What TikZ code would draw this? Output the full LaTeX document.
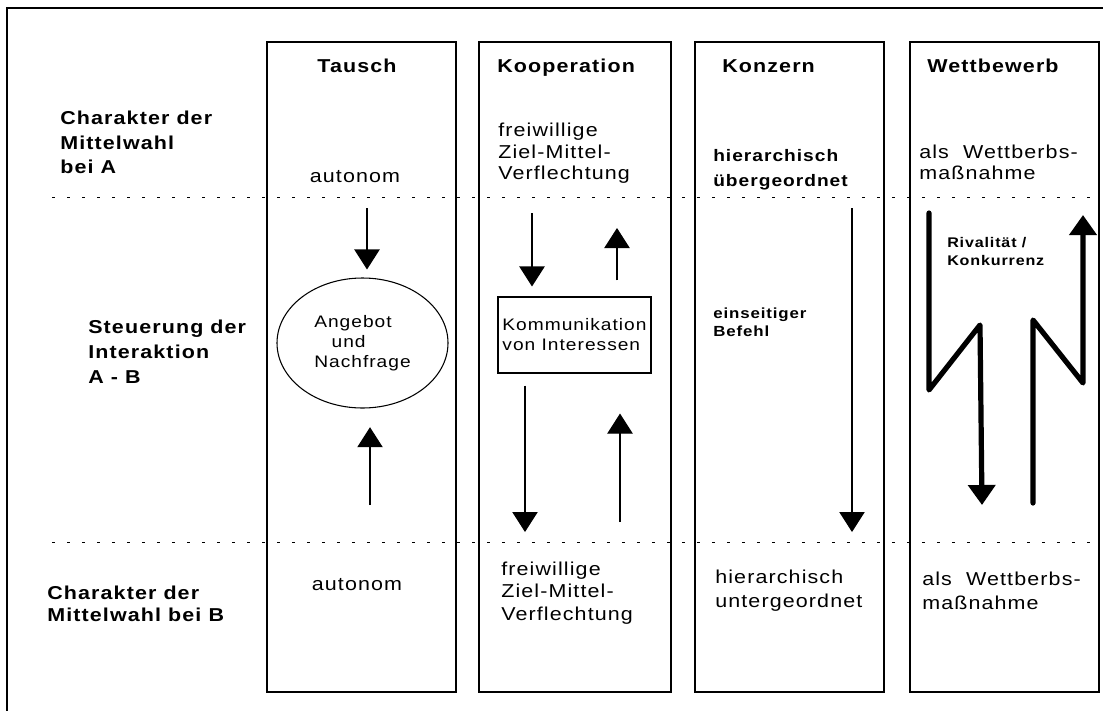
\documentclass[tikz,border=0pt]{standalone}
\usepackage{fontspec}
\setmainfont{Liberation Sans}[FakeStretch=1.15,LetterSpace=6]
\usetikzlibrary{arrows.meta,shapes.geometric,fit}

\begin{document}
\begin{tikzpicture}[x=0.75pt,y=-0.75pt,
  thinline/.style={line width=0.8pt},
  column/.style={draw,line width=0.8pt,inner sep=0pt},
  rowsep/.style={line width=0.7pt,dash pattern=on 2.25pt off 9pt},
  flow/.style={line width=0.8pt,-{Triangle[width=19pt,length=15pt]}},
  rivalry/.style={line width=3.9pt,line cap=round,line join=round,-{Triangle[width=20pt,length=15pt]}},
  txt/.style={inner sep=0pt,align=left,anchor=west},
  rowlabel/.style={txt,font=\bfseries\fontsize{14}{18.5}\selectfont},
  heading/.style={inner sep=0pt,anchor=base west,font=\bfseries\fontsize{14}{17}\selectfont},
  body/.style={txt,font=\fontsize{14}{16.5}\selectfont},
  innertext/.style={font=\fontsize{12.5}{15}\selectfont},
  note/.style={txt,font=\bfseries\fontsize{11}{13.5}\selectfont}
]
\useasboundingbox (0,0) rectangle (1103,711);

% outer frame (top and left edge)
\coordinate (fTR) at (1103,8);
\coordinate (fTL) at (7,8);
\coordinate (fBL) at (7,711);
\draw[thinline] (fTR) -- (fTL) -- (fBL);

% the four columns
\node[column,fit={(267,42) (456,692)}] (colT) {};
\node[column,fit={(479,42) (671,692)}] (colK) {};
\node[column,fit={(695,42) (884,692)}] (colZ) {};
\node[column,fit={(910,42) (1099,692)}] (colW) {};

% dotted row separators
\coordinate (s1) at (52,197);
\coordinate (s2) at (52,542);
\draw[rowsep] (s1) -- (s1 -| colW.east);
\draw[rowsep] (s2) -- (s2 -| colW.east);

% row labels
\node[rowlabel] (lblA) at (60,142.5) {Charakter der\\Mittelwahl\\bei A};
\node[rowlabel,font=\bfseries\fontsize{14}{18.75}\selectfont] (lblI) at (88,352) {Steuerung der\\Interaktion\\A - B};
\node[rowlabel,font=\bfseries\fontsize{14}{16.5}\selectfont] (lblB) at (47,604) {Charakter der\\Mittelwahl bei B};

% column headings
\node[heading,anchor=base] (hT) at (357,72) {Tausch};
\node[heading] (hK) at (497,72) {Kooperation};
\node[heading] (hZ) at (722,72) {Konzern};
\node[heading] (hW) at (927,72) {Wettbewerb};

% choice of means at A
\node[body,anchor=base] (aA) at (355,182) {autonom};
\node[body,font=\fontsize{14}{16}\selectfont] (kopA) at (498,153.5) {freiwillige\\Ziel-Mittel-\\Verflechtung};
\node[body,font=\bfseries\fontsize{12.5}{18.75}\selectfont] (konA) at (713,169.5) {hierarchisch\\übergeordnet};
\node[body,font=\fontsize{14}{15.75}\selectfont] (wetA) at (919,162.5) {als\ \ Wettberbs-\\maßnahme};

% choice of means at B
\node[body,anchor=base] (aB) at (357,590) {autonom};
\node[body,font=\fontsize{14}{16.9}\selectfont] (kopB) at (501,593) {freiwillige\\Ziel-Mittel-\\Verflechtung};
\node[body,font=\fontsize{14}{18}\selectfont] (konB) at (715,591) {hierarchisch\\untergeordnet};
\node[body,font=\fontsize{14}{18}\selectfont] (wetB) at (922,591) {als\ \ Wettberbs-\\maßnahme};

% Tausch: market
\node[draw,thinline,ellipse,minimum width=128.25pt,minimum height=97.5pt,inner sep=0pt,align=left,innertext] (markt) at (362.5,343) {Angebot\\\hspace*{13pt}und\\Nachfrage};
\coordinate (tIn) at (367,208);
\coordinate (tOut) at (370,505);
\draw[flow,shorten >=6pt] (tIn) -- (tIn |- markt.north);
\draw[flow,shorten >=14pt] (tOut) -- (tOut |- markt.south);

% Kooperation: communication
\node[draw,thinline,minimum width=114.75pt,minimum height=57pt,inner sep=0pt,align=left,innertext] (komm) at (574.5,335) {Kommunikation\\von Interessen};
\coordinate (kA) at (532,213);
\coordinate (kB) at (617,228);
\coordinate (kC) at (525,532);
\coordinate (kD) at (620,522);
\draw[flow,shorten >=7.5pt] (kA) -- (kA |- komm.north);
\draw[flow,shorten <=12pt] (kB |- komm.north) -- (kB);
\draw[flow,shorten <=9pt] (kC |- komm.south) -- (kC);
\draw[flow,shorten >=30pt] (kD) -- (kD |- komm.south);

% Konzern: one-sided command
\node[note] (befehl) at (713,322) {einseitiger\\Befehl};
\coordinate (zTop) at (852,208);
\coordinate (zEnd) at (852,532);
\draw[flow] (zTop) -- (zEnd);

% Wettbewerb: rivalry
\node[note,font=\bfseries\fontsize{10.5}{13.5}\selectfont] (rival) at (947,251) {Rivalität /\\Konkurrenz};
\coordinate (wA1) at (929,213);
\coordinate (wA2) at (929,390);
\coordinate (wA3) at (980,325);
\coordinate (wA4) at (982,505);
\coordinate (wB1) at (1033,503);
\coordinate (wB2) at (1033,320);
\coordinate (wB3) at (1083,383);
\coordinate (wB4) at (1083,215);
\draw[rivalry] (wA1) -- (wA2) -- (wA3) -- (wA4);
\draw[rivalry] (wB1) -- (wB2) -- (wB3) -- (wB4);
\end{tikzpicture}
\end{document}
